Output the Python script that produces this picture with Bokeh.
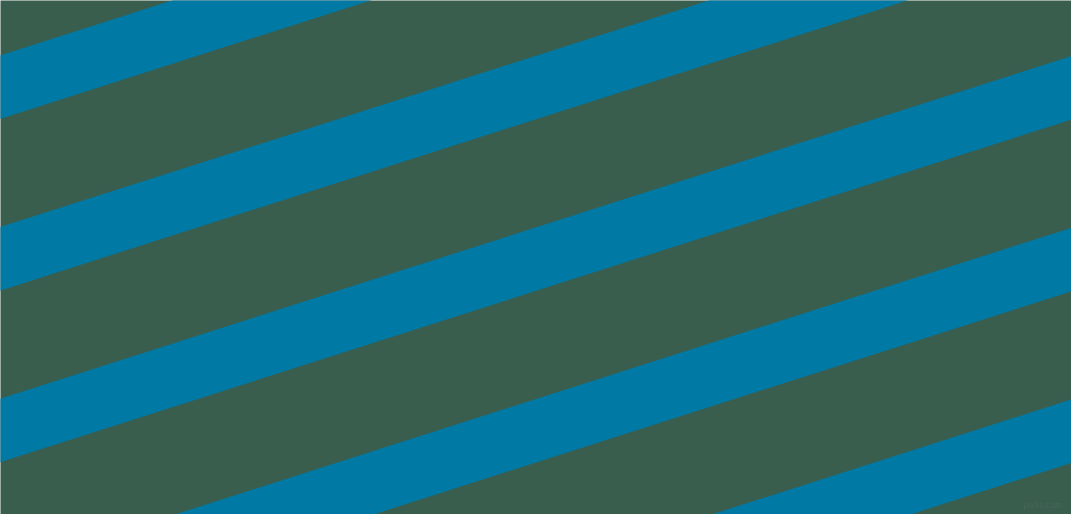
import numpy as np

from bokeh.plotting import figure
from bokeh.embed import file_html
from bokeh.resources import INLINE
from bokeh.core.properties import value

# stripe data, measured on the picture (pixel coordinates, y down)
stripe_top_at_left = [-120.5, 56.5, 233.5, 410.5, 587.5, 764.5]   # top edge of each stripe at x=0
stripe_depth = 65.5       # vertical thickness of a stripe
stripe_slope = 0.3249     # rise per px to the right (about 18 degrees)

bg_color = "#3a5e4e"
stripe_color = "#0079a5"

W, H = 1087, 530
margin = 8

# whole picture squeezed into the window minus the page margin
p = figure(width=W - 2 * margin, height=H - 2 * margin,
           x_range=(0, W), y_range=(H, 0),
           output_backend="svg", toolbar_location=None,
           min_border=0, background_fill_color=bg_color,
           border_fill_color=bg_color, outline_line_color=None)
p.axis.visible = False
p.grid.visible = False

# 斜条纹
x_ends = np.array([-50.0, W + 50.0])
xs, ys = [], []
for t0 in stripe_top_at_left:
    top = t0 - stripe_slope * x_ends
    bot = top + stripe_depth
    xs.append([x_ends[0], x_ends[1], x_ends[1], x_ends[0]])
    ys.append([top[0], top[1], bot[1], bot[0]])
p.patches(xs, ys, fill_color=stripe_color, line_color=None)

# faint watermark
p.text(x=[1078], y=[525], text=["pixlis.com"], text_color="white", text_alpha=0.07,
       text_font=value("Liberation Sans"), text_font_size="9px",
       text_align="right", text_baseline="bottom")

open("out.html", "w").write(file_html(p, INLINE))
